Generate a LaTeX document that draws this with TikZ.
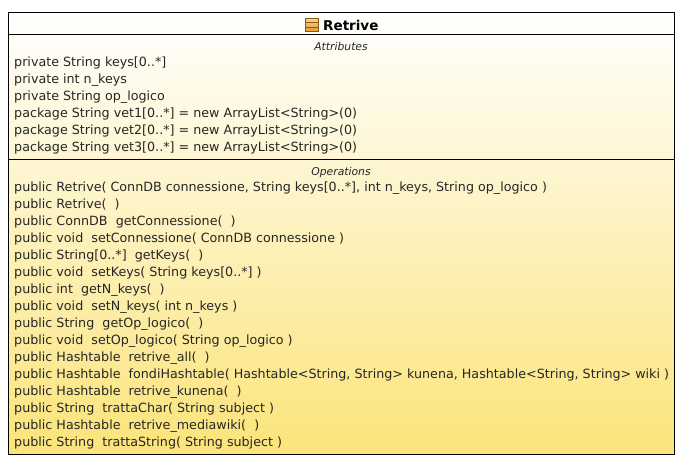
\documentclass[tikz,border=0pt]{standalone}
\usepackage{fontspec}
\setmainfont{DejaVu Sans}
\definecolor{boxtop}{HTML}{FFFFFF}
\definecolor{boxbottom}{HTML}{FBE47A}
\definecolor{iconlight}{HTML}{FBD58C}
\definecolor{icondark}{HTML}{E79A35}
\definecolor{iconedge}{HTML}{8A5A1C}
\tikzset{
  member/.style={anchor=base west,inner sep=0pt,font=\fontsize{12.7}{15}\selectfont,text=black!85},
  caption/.style={anchor=base,inner sep=0pt,font=\fontsize{10.8}{13}\itshape\selectfont,text=black!85},
  classbox/.style={draw=black,line width=1pt,top color=boxtop,bottom color=boxbottom,minimum width=666.5pt,minimum height=441.5pt,inner sep=0pt},
  iconband/.style={draw=iconedge,line width=0.7pt,top color=iconlight,bottom color=icondark,minimum width=12.5pt,minimum height=12.5pt,inner sep=0pt}
}
\begin{document}
\begin{tikzpicture}[x=1pt,y=-1pt]
\useasboundingbox (0,0) rectangle (693,472);

\node (RetriveBox) at (341.25,233.25) [classbox] {};
\coordinate (HeadLeft) at (RetriveBox.west |- 0,34.5);
\coordinate (HeadRight) at (RetriveBox.east |- 0,34.5);
\coordinate (AttrLeft) at (RetriveBox.west |- 0,159);
\coordinate (AttrRight) at (RetriveBox.east |- 0,159);
\draw [line width=1pt] (HeadLeft) -- (HeadRight);
\draw [line width=1pt] (AttrLeft) -- (AttrRight);

\node (Icon) at (312,25) [iconband] {};
\coordinate (IconA) at (Icon.west |- 0,22.5);
\coordinate (IconB) at (Icon.east |- 0,22.5);
\coordinate (IconC) at (Icon.west |- 0,27);
\coordinate (IconD) at (Icon.east |- 0,27);
\draw [iconedge,line width=0.6pt] (IconA) -- (IconB);
\draw [iconedge,line width=0.6pt] (IconC) -- (IconD);
\node (Retrive) at (323,30) [anchor=base west,inner sep=0pt,font=\fontsize{13.5}{16}\bfseries\selectfont] {Retrive};

\node (Attributes) at (341,50) [caption] {Attributes};
\node (keys) at (14,66) [member] {private String keys[0..*]};
\node (nkeys) at (14,83) [member] {private int n\_keys};
\node (oplogico) at (14,100) [member] {private String op\_logico};
\node (vetA) at (14,117) [member] {package String vet1[0..*] = new ArrayList<String>(0)};
\node (vetB) at (14,134) [member] {package String vet2[0..*] = new ArrayList<String>(0)};
\node (vetC) at (14,151) [member] {package String vet3[0..*] = new ArrayList<String>(0)};

\node (Operations) at (341,175) [caption] {Operations};
\node (opRetriveA) at (14,191) [member] {public Retrive( ConnDB connessione, String keys[0..*], int n\_keys, String op\_logico )};
\node (opRetriveB) at (14,208) [member] {public Retrive(\ \ )};
\node (opGetConn) at (14,225) [member] {public ConnDB\ \ getConnessione(\ \ )};
\node (opSetConn) at (14,242) [member] {public void\ \ setConnessione( ConnDB connessione )};
\node (opGetKeys) at (14,259) [member] {public String[0..*]\ \ getKeys(\ \ )};
\node (opSetKeys) at (14,276) [member] {public void\ \ setKeys( String keys[0..*] )};
\node (opGetN) at (14,293) [member] {public int\ \ getN\_keys(\ \ )};
\node (opSetN) at (14,310) [member] {public void\ \ setN\_keys( int n\_keys )};
\node (opGetOp) at (14,327) [member] {public String\ \ getOp\_logico(\ \ )};
\node (opSetOp) at (14,344) [member] {public void\ \ setOp\_logico( String op\_logico )};
\node (opAll) at (14,361) [member] {public Hashtable\ \ retrive\_all(\ \ )};
\node (opFondi) at (14,378) [member] {public Hashtable\ \ fondiHashtable( Hashtable<String, String> kunena, Hashtable<String, String> wiki )};
\node (opKunena) at (14,395) [member] {public Hashtable\ \ retrive\_kunena(\ \ )};
\node (opChar) at (14,412) [member] {public String\ \ trattaChar( String subject )};
\node (opMedia) at (14,429) [member] {public Hashtable\ \ retrive\_mediawiki(\ \ )};
\node (opString) at (14,446) [member] {public String\ \ trattaString( String subject )};

\end{tikzpicture}
\end{document}
